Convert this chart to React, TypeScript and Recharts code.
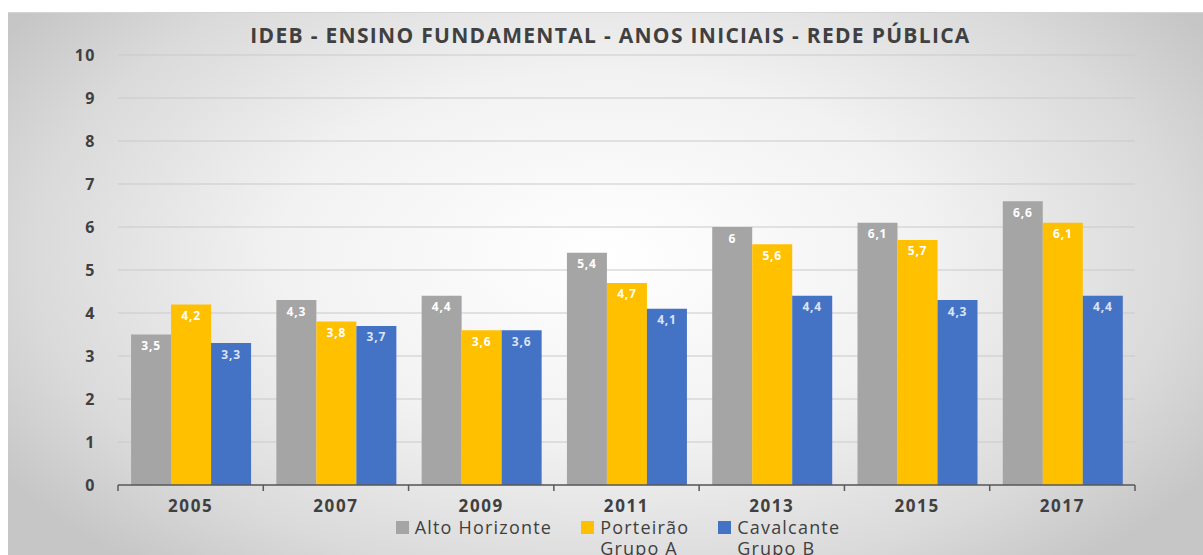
import React from 'react';
import { BarChart, Bar, XAxis, YAxis, CartesianGrid, Legend, LabelList } from 'recharts';

const years = ['2005', '2007', '2009', '2011', '2013', '2015', '2017'];
const altoHorizonte = [3.5, 4.3, 4.4, 5.4, 6, 6.1, 6.6];
const porteirao = [4.2, 3.8, 3.6, 4.7, 5.6, 5.7, 6.1];
const cavalcante = [3.3, 3.7, 3.6, 4.1, 4.4, 4.3, 4.4];
const yTicks = [0, 1, 2, 3, 4, 5, 6, 7, 8, 9, 10];

const seriesNames = ['Alto Horizonte', 'Porteirão\nGrupo A', 'Cavalcante\nGrupo B'];
const seriesColors = ['#a5a5a5', '#ffc000', '#4472c4'];
const labelColors = ['#ffffff', '#ffffff', '#dbe3f4'];

const data = years.map((year, i) => ({
  year,
  s0: altoHorizonte[i],
  s1: porteirao[i],
  s2: cavalcante[i],
}));

const FONT = '"Open Sans", "DejaVu Sans", sans-serif';
const TEXT = '#404040';

const fmt = (v: any) => String(v).replace('.', ',');

const XTick = (props: any) => {
  const { x, y, payload, index, width } = props;
  const band = (width || 1017) / years.length;
  return (
    <g>
      <line x1={x - band / 2} x2={x - band / 2} y1={y} y2={y + 6} stroke="#595959" strokeWidth={1.5} />
      {index === years.length - 1 && (
        <line x1={x + band / 2} x2={x + band / 2} y1={y} y2={y + 6} stroke="#595959" strokeWidth={1.5} />
      )}
      <text x={x} y={y + 27} textAnchor="middle" fill={TEXT} fontSize={17} fontWeight={700} fontFamily={FONT} letterSpacing={1.6}>
        {payload.value}
      </text>
    </g>
  );
};

const LegendContent = () => (
  <div style={{ display: 'flex', justifyContent: 'center', alignItems: 'flex-start', gap: 29, fontFamily: FONT, fontSize: 18, color: TEXT, lineHeight: '21px', paddingTop: 2, letterSpacing: 1.2 }}>
    {seriesNames.map((name, i) => (
      <div key={name} style={{ display: 'flex', alignItems: 'flex-start' }}>
        <span style={{ display: 'inline-block', width: 13, height: 13, background: seriesColors[i], marginTop: 4, marginRight: 6 }} />
        <span style={{ whiteSpace: 'pre-line' }}>{name}</span>
      </div>
    ))}
  </div>
);

export default function App() {
  return (
    <div
      style={{
        position: 'absolute',
        left: 8,
        top: 12,
        width: 1195,
        height: 543,
        background: 'radial-gradient(ellipse 60% 75% at 50% 45%, #ffffff 0%, #f2f2f2 45%, #dadada 80%, #c6c6c6 100%)',
        borderTop: '1px solid #d4d4d4',
        boxSizing: 'border-box',
        overflow: 'hidden',
      }}
    >
      <div
        style={{
          position: 'absolute',
          top: 8,
          left: 5,
          width: 1195,
          textAlign: 'center',
          fontFamily: FONT,
          fontWeight: 700,
          fontSize: 21,
          color: TEXT,
          letterSpacing: 1.3,
        }}
      >
        IDEB - ENSINO FUNDAMENTAL - ANOS INICIAIS - REDE PÚBLICA
      </div>
      <BarChart
        width={1195}
        height={542}
        data={data}
        margin={{ top: 42, right: 68, left: 0, bottom: 0 }}
        barCategoryGap="9%"
        barGap={0}
      >
        <CartesianGrid vertical={false} stroke="#c9c9c9" strokeWidth={1.2} />
        <XAxis
          dataKey="year"
          height={30}
          stroke="#595959"
          strokeWidth={1.5}
          tickLine={false}
          tickSize={0}
          tickMargin={0}
          tick={<XTick />}
          interval={0}
        />
        <YAxis
          width={110}
          domain={[0, 10]}
          ticks={yTicks}
          interval={0}
          axisLine={false}
          tickLine={false}
          tickSize={0}
          tickMargin={22}
          tick={{ fill: TEXT, fontSize: 16, fontWeight: 700, fontFamily: FONT, letterSpacing: 1.5 }}
        />
        <Legend
          verticalAlign="bottom"
          height={40}
          content={<LegendContent />}
          wrapperStyle={{ left: 100, width: 1020 }}
        />
        {['s0', 's1', 's2'].map((key, i) => (
          <Bar key={key} dataKey={key} name={seriesNames[i]} fill={seriesColors[i]} isAnimationActive={false}>
            <LabelList
              dataKey={key}
              position="insideTop"
              offset={7}
              formatter={fmt}
              fill={labelColors[i]}
              fontSize={12}
              fontWeight={700}
              fontFamily={FONT}
              letterSpacing={0.8}
            />
          </Bar>
        ))}
      </BarChart>
    </div>
  );
}
